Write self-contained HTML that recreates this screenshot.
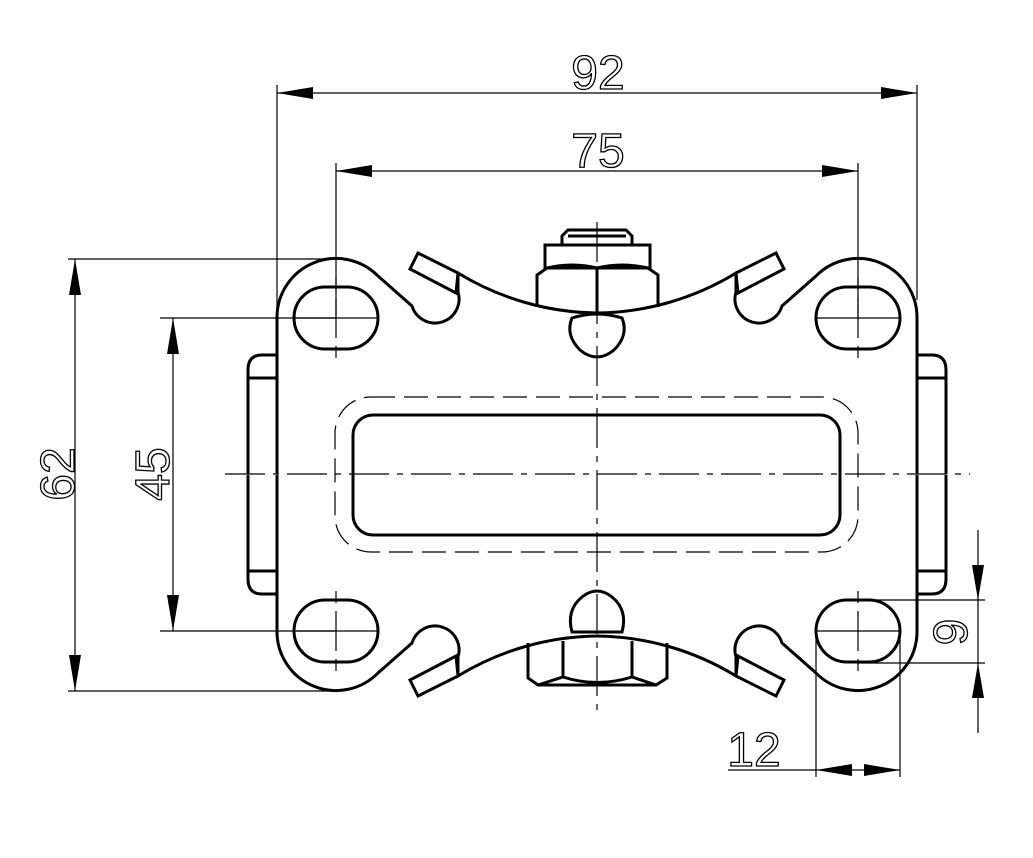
<!DOCTYPE html>
<html><head><style>html,body{margin:0;padding:0;background:#fff}svg{display:block}</style></head>
<body>
<svg width="1033" height="858" viewBox="0 0 1033 858" xmlns="http://www.w3.org/2000/svg">
<defs>
<g id="q" fill="none" stroke="#000" stroke-width="3">
  <path d="M277,474 L277,318 A59,59 0 0 1 378,276 L412,306 A24,24 0 0 0 458,292 L458,273 A273,273 0 0 0 597,313"/>
  <polygon points="418,253 410,269 456,293 458,273"/>
  <rect x="294" y="287" width="84" height="62" rx="31" ry="31"/>
  <path d="M277,355 L262,355 Q248,355 248,370 L248,474 M248,378 L277,378"/>
</g>
<g id="hc" stroke="#000" stroke-width="1.2" fill="none">
  <path d="M-42,0 H42"/>
  <path d="M0,-40 V-28 M0,-20 V20 M0,28 V40"/>
</g>
</defs>
<use href="#q"/>
<use href="#q" transform="translate(1194,0) scale(-1,1)"/>
<use href="#q" transform="translate(0,949) scale(1,-1)"/>
<use href="#q" transform="translate(1194,949) scale(-1,-1)"/>
<use href="#hc" x="336" y="318"/><use href="#hc" x="858" y="318"/>
<use href="#hc" x="336" y="631"/><use href="#hc" x="858" y="631"/>

<g fill="none" stroke="#000" stroke-width="3">
  <rect x="353" y="415" width="487" height="120" rx="20"/>
  <path d="M562,245 L562,236 L568,230 L626,230 L632,236 L632,245"/>
  <path d="M568,236 H626"/>
  <rect x="545" y="245" width="105" height="23"/>
  <path d="M537,307 L537,275 L547,268 L648,268 L658,275 L658,307"/>
  <path d="M597,268 V312 M547,268 Q572,262 597,268 Q622,262 648,268"/>
  <path d="M572,318 Q565,335 580,350 Q597,364 614,350 Q629,335 622,318 Q597,310 572,318 Z"/>
  <path d="M572,632 Q566,610 582,597 Q597,585 612,597 Q628,610 622,632 Z"/>
  <path d="M528,643 L528,678 L538,685 L656,685 L667,678 L667,643"/>
  <path d="M563,641 V677 M632,641 V677 M538,685 L563,677 Q597,688 632,677 L656,685"/>
</g>
<rect x="335" y="397" width="523" height="155" rx="36" fill="none" stroke="#000" stroke-width="1.2" stroke-dasharray="24,9"/>

<g stroke="#000" stroke-width="1.2" fill="none">
  <path d="M225,474 H970" stroke-dasharray="40,8,6,8"/>
  <path d="M597,222 V715" stroke-dasharray="40,8,6,8"/>
</g>

<g stroke="#000" stroke-width="1.2" fill="none">
  <path d="M277,85 V318 M917,85 V300 M277,93 H917"/>
  <path d="M336,163 V318 M858,163 V318 M336,171 H858"/>
  <path d="M68,259 H336 M68,691 H336 M75,259 V691"/>
  <path d="M160,318 H336 M160,631 H336 M173,318 V631"/>
  <path d="M858,600 H985 M858,663 H985 M978,530 V733"/>
  <path d="M816,632 V777 M900,632 V777 M728,770 H900"/>
</g>
<g fill="#000">
  <polygon points="277,93 313,87 313,99"/><polygon points="917,93 881,87 881,99"/>
  <polygon points="336,171 372,165 372,177"/><polygon points="858,171 822,165 822,177"/>
  <polygon points="75,259 69,295 81,295"/><polygon points="75,691 69,655 81,655"/>
  <polygon points="173,318 167,354 179,354"/><polygon points="173,631 167,595 179,595"/>
  <polygon points="978,600 972,565 984,565"/><polygon points="978,663 972,698 984,698"/>
  <polygon points="816,770 852,764 852,776"/><polygon points="900,770 864,764 864,776"/>
</g>
<g font-family="Liberation Sans, sans-serif" font-size="48" fill="none" stroke="#000" stroke-width="1.3">
  <text x="598" y="89" text-anchor="middle">92</text>
  <text x="598" y="167" text-anchor="middle">75</text>
  <text x="754" y="766" text-anchor="middle">12</text>
  <text transform="translate(74,474) rotate(-90)" text-anchor="middle">62</text>
  <text transform="translate(169,474) rotate(-90)" text-anchor="middle">45</text>
  <text transform="translate(967,632) rotate(-90)" text-anchor="middle">9</text>
</g>
</svg>
</body></html>
